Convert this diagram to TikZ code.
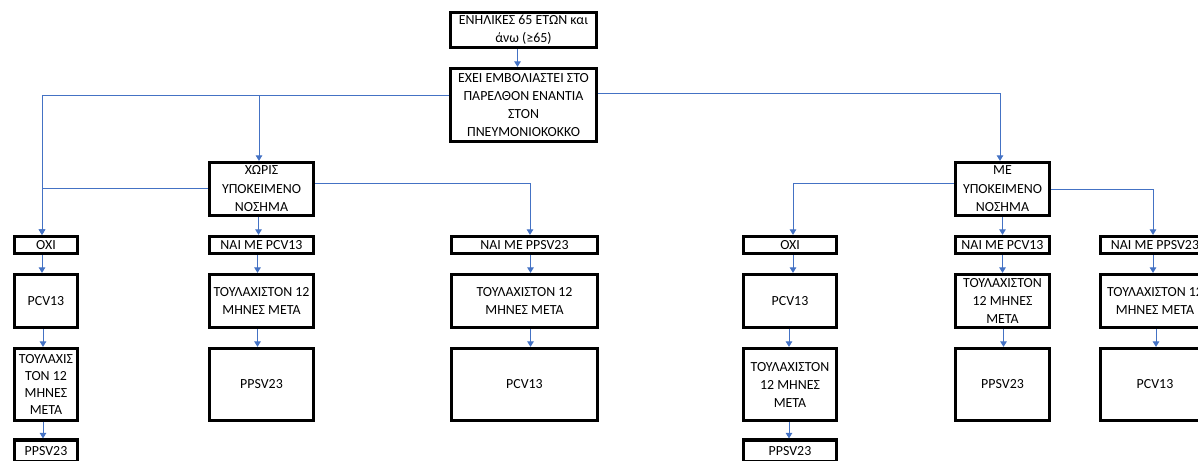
\documentclass[tikz,border=0pt]{standalone}
\usepackage{fontspec}
\setmainfont{Carlito}
\usepackage{xcolor}
\usepackage{tikz}
\usetikzlibrary{arrows.meta, positioning}
\definecolor{linkblue}{HTML}{4472C4}

\begin{document}
\begin{tikzpicture}[x=1pt, y=-1pt,
                box/.style={
                  draw, line width=3.2pt, inner sep=0pt, align=center,
                  font=\fontsize{13.9}{18}\selectfont, % text of all boxes
                  minimum width=#1
                },
                box/.default=95pt,
                thin/.style={minimum height=17pt},
                mid/.style={minimum height=53pt},
                tall/.style={minimum height=72pt},
                link/.style={draw=linkblue, line width=0.9pt,
                  -{Triangle[width=6.5pt,length=5.5pt]}}
                ]
  \useasboundingbox (0,0) rectangle (1198,460);

  \node [box=146pt, minimum height=35pt] (adult) at (523.5,30) {ΕΝΗΛΙΚΕΣ 65 ΕΤΩΝ και\\άνω (≥65)};
  \node [box=146pt, minimum height=73pt] (past) at (523.5,105) {ΕΧΕΙ ΕΜΒΟΛΙΑΣΤΕΙ ΣΤΟ\\ΠΑΡΕΛΘΟΝ ΕΝΑΝΤΙΑ\\ΣΤΟΝ\\ΠΝΕΥΜΟΝΙΟΚΟΚΚΟ};
  \node [box=104pt, mid, font=\fontsize{13.9}{18.5}\selectfont] (without) at (261.5,189) {ΧΩΡΙΣ\\ΥΠΟΚΕΙΜΕΝΟ\\ΝΟΣΗΜΑ};
  \node [box=94pt, mid, font=\fontsize{13.9}{18.5}\selectfont] (with) at (1002.5,189) {ΜΕ\\ΥΠΟΚΕΙΜΕΝΟ\\ΝΟΣΗΜΑ};

  % without disease
  \node [box=63pt, thin] (noA) at (46,245) {ΌΧΙ};
  \node [box=63pt, mid] (pcvA) at (46,301) {PCV13};
  \node [box=63pt, tall, font=\fontsize{13.9}{17}\selectfont] (waitA) at (46,384.5) {ΤΟΥΛΑΧΙΣ\\ΤΟΝ 12\\ΜΗΝΕΣ\\ΜΕΤΑ};
  \node [box=63pt, minimum height=22pt] (ppsvA) at (46,451) {PPSV23};

  \node [box=104pt, thin] (yesB) at (261.5,245) {ΝΑΙ ΜΕ PCV13};
  \node [box=104pt, mid] (waitB) at (261.5,301) {ΤΟΥΛΑΧΙΣΤΟΝ 12\\ΜΗΝΕΣ ΜΕΤΑ};
  \node [box=104pt, tall] (ppsvB) at (261.5,384.5) {PPSV23};

  \node [box=146pt, thin] (yesC) at (524.5,245) {ΝΑΙ ΜΕ PPSV23};
  \node [box=146pt, mid] (waitC) at (524.5,301) {ΤΟΥΛΑΧΙΣΤΟΝ 12\\ΜΗΝΕΣ ΜΕΤΑ};
  \node [box=146pt, tall] (pcvC) at (524.5,384.5) {PCV13};

  % with disease
  \node [box=93pt, thin] (noD) at (790,245) {ΌΧΙ};
  \node [box=93pt, mid] (pcvD) at (790,301) {PCV13};
  \node [box=93pt, tall] (waitD) at (790,384.5) {ΤΟΥΛΑΧΙΣΤΟΝ\\12 ΜΗΝΕΣ\\ΜΕΤΑ};
  \node [box=93pt, minimum height=22pt] (ppsvD) at (790,451) {PPSV23};

  \node [box=94pt, thin] (yesE) at (1002.5,245) {ΝΑΙ ΜΕ PCV13};
  \node [box=94pt, mid] (waitE) at (1002.5,301) {ΤΟΥΛΑΧΙΣΤΟΝ\\12 ΜΗΝΕΣ\\ΜΕΤΑ};
  \node [box=94pt, tall] (ppsvE) at (1002.5,384.5) {PPSV23};

  \node [box=109pt, thin] (yesF) at (1155,245) {ΝΑΙ ΜΕ PPSV23};
  \node [box=109pt, mid] (waitF) at (1155,301) {ΤΟΥΛΑΧΙΣΤΟΝ 12\\ΜΗΝΕΣ ΜΕΤΑ};
  \node [box=109pt, tall] (pcvF) at (1155,384.5) {PCV13};

  % branches
  \draw [link] ([xshift=-6pt]adult.south) -- ([xshift=-6pt]past.north);
  \draw [link] ([yshift=10pt]past.west) -| ([xshift=-4pt]noA.north);
  \draw [link] ([yshift=10pt]past.west) -| ([xshift=-2.5pt]without.north);
  \draw [link] ([yshift=12pt]past.east) -| ([xshift=-2.5pt]with.north);
  \draw [link] ([yshift=1pt]without.west) -| ([xshift=-4pt]noA.north);
  \draw [link] ([xshift=-3pt]without.south) -- ([xshift=-3pt]yesB.north);
  \draw [link] ([yshift=6pt]without.east) -| ([xshift=5.5pt]yesC.north);
  \draw [link] ([yshift=6pt]with.west) -| ([xshift=3pt]noD.north);
  \draw [link] (with.south) -- (yesE.north);
  \draw [link] (with.east) -| ([xshift=-2pt]yesF.north);

  % columns
  \draw [link] ([xshift=-4pt]noA.south) -- ([xshift=-4pt]pcvA.north);
  \draw [link] ([xshift=-3pt]pcvA.south) -- ([xshift=-3pt]waitA.north);
  \draw [link] ([xshift=-3pt]waitA.south) -- ([xshift=-3pt]ppsvA.north);
  \draw [link] ([xshift=-4pt]yesB.south) -- ([xshift=-4pt]waitB.north);
  \draw [link] ([xshift=-4pt]waitB.south) -- ([xshift=-4pt]ppsvB.north);
  \draw [link] ([xshift=6pt]yesC.south) -- ([xshift=6pt]waitC.north);
  \draw [link] ([xshift=6pt]waitC.south) -- ([xshift=6pt]pcvC.north);
  \draw [link] ([xshift=3pt]noD.south) -- ([xshift=3pt]pcvD.north);
  \draw [link] ([xshift=-1pt]pcvD.south) -- ([xshift=-1pt]waitD.north);
  \draw [link] ([xshift=-1pt]waitD.south) -- ([xshift=-1pt]ppsvD.north);
  \draw [link] (yesE.south) -- (waitE.north);
  \draw [link] ([xshift=1pt]waitE.south) -- ([xshift=1pt]ppsvE.north);
  \draw [link] ([xshift=-2pt]yesF.south) -- ([xshift=-2pt]waitF.north);
  \draw [link] ([xshift=1pt]waitF.south) -- ([xshift=1pt]pcvF.north);
\end{tikzpicture}
\end{document}
